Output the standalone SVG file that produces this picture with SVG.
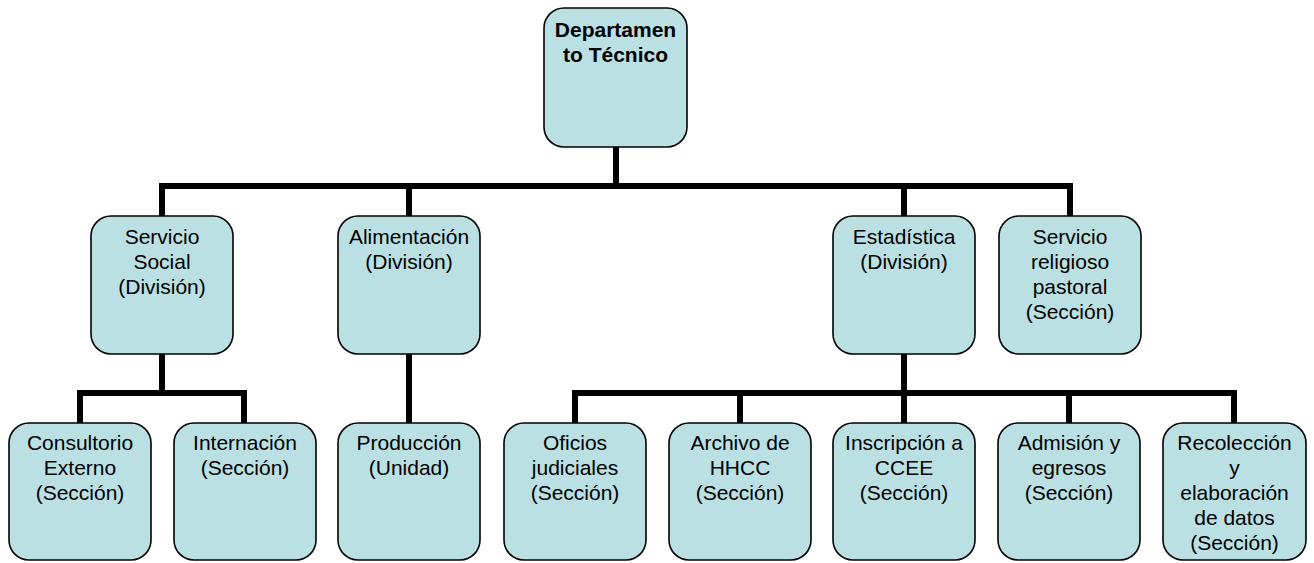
<svg xmlns="http://www.w3.org/2000/svg" width="1314" height="563" viewBox="0 0 1314 563">
<style>
.conn{fill:none;stroke:#000;stroke-width:6;stroke-linejoin:miter;stroke-linecap:butt}
.box{fill:#BBE0E3;stroke:#000;stroke-width:1.6}
.t{font-family:"Liberation Sans",Arial,sans-serif;font-size:21px;fill:#000;text-anchor:middle}
.b{font-weight:bold}
</style>
<rect width="1314" height="563" fill="#fff"/>
<g id="connectors">
<path class="conn" d="M616,147 V186"/>
<path class="conn" d="M162,216 V186 H1070 V216"/>
<path class="conn" d="M409,186 V216"/>
<path class="conn" d="M904,186 V216"/>
<path class="conn" d="M162,354 V393"/>
<path class="conn" d="M80,423 V393 H244 V423"/>
<path class="conn" d="M409,354 V423"/>
<path class="conn" d="M904,354 V423"/>
<path class="conn" d="M575,423 V393 H1234 V423"/>
<path class="conn" d="M740,393 V423"/>
<path class="conn" d="M1069,393 V423"/>
</g>
<g id="n-depto">
<rect class="box" x="544" y="8" width="143" height="139" rx="20"/>
<text class="t b" x="615.5" y="37">Departamen</text>
<text class="t b" x="615.5" y="62">to Técnico</text>
</g>
<g id="n-servicio-social">
<rect class="box" x="91" y="216" width="142" height="138" rx="20"/>
<text class="t" x="162" y="244">Servicio</text>
<text class="t" x="162" y="269">Social</text>
<text class="t" x="162" y="294">(División)</text>
</g>
<g id="n-alimentacion">
<rect class="box" x="338" y="216" width="142" height="138" rx="20"/>
<text class="t" x="409" y="244">Alimentación</text>
<text class="t" x="409" y="269">(División)</text>
</g>
<g id="n-estadistica">
<rect class="box" x="833" y="216" width="142" height="138" rx="20"/>
<text class="t" x="904" y="244">Estadística</text>
<text class="t" x="904" y="269">(División)</text>
</g>
<g id="n-religioso">
<rect class="box" x="999" y="216" width="142" height="138" rx="20"/>
<text class="t" x="1070" y="244">Servicio</text>
<text class="t" x="1070" y="269">religioso</text>
<text class="t" x="1070" y="294">pastoral</text>
<text class="t" x="1070" y="319">(Sección)</text>
</g>
<g id="n-consultorio">
<rect class="box" x="9" y="423" width="142" height="137" rx="20"/>
<text class="t" x="80" y="450">Consultorio</text>
<text class="t" x="80" y="475">Externo</text>
<text class="t" x="80" y="500">(Sección)</text>
</g>
<g id="n-internacion">
<rect class="box" x="174" y="423" width="142" height="137" rx="20"/>
<text class="t" x="245" y="450">Internación</text>
<text class="t" x="245" y="475">(Sección)</text>
</g>
<g id="n-produccion">
<rect class="box" x="338" y="423" width="142" height="137" rx="20"/>
<text class="t" x="409" y="450">Producción</text>
<text class="t" x="409" y="475">(Unidad)</text>
</g>
<g id="n-oficios">
<rect class="box" x="504" y="423" width="142" height="137" rx="20"/>
<text class="t" x="575" y="450">Oficios</text>
<text class="t" x="575" y="475">judiciales</text>
<text class="t" x="575" y="500">(Sección)</text>
</g>
<g id="n-archivo">
<rect class="box" x="669" y="423" width="142" height="137" rx="20"/>
<text class="t" x="740" y="450">Archivo de</text>
<text class="t" x="740" y="475">HHCC</text>
<text class="t" x="740" y="500">(Sección)</text>
</g>
<g id="n-inscripcion">
<rect class="box" x="833" y="423" width="142" height="137" rx="20"/>
<text class="t" x="904" y="450">Inscripción a</text>
<text class="t" x="904" y="475">CCEE</text>
<text class="t" x="904" y="500">(Sección)</text>
</g>
<g id="n-admision">
<rect class="box" x="998" y="423" width="142" height="137" rx="20"/>
<text class="t" x="1069" y="450">Admisión y</text>
<text class="t" x="1069" y="475">egresos</text>
<text class="t" x="1069" y="500">(Sección)</text>
</g>
<g id="n-recoleccion">
<rect class="box" x="1163" y="423" width="143" height="137" rx="20"/>
<text class="t" x="1234.5" y="450">Recolección</text>
<text class="t" x="1234.5" y="475">y</text>
<text class="t" x="1234.5" y="500">elaboración</text>
<text class="t" x="1234.5" y="525">de datos</text>
<text class="t" x="1234.5" y="550">(Sección)</text>
</g>
</svg>
